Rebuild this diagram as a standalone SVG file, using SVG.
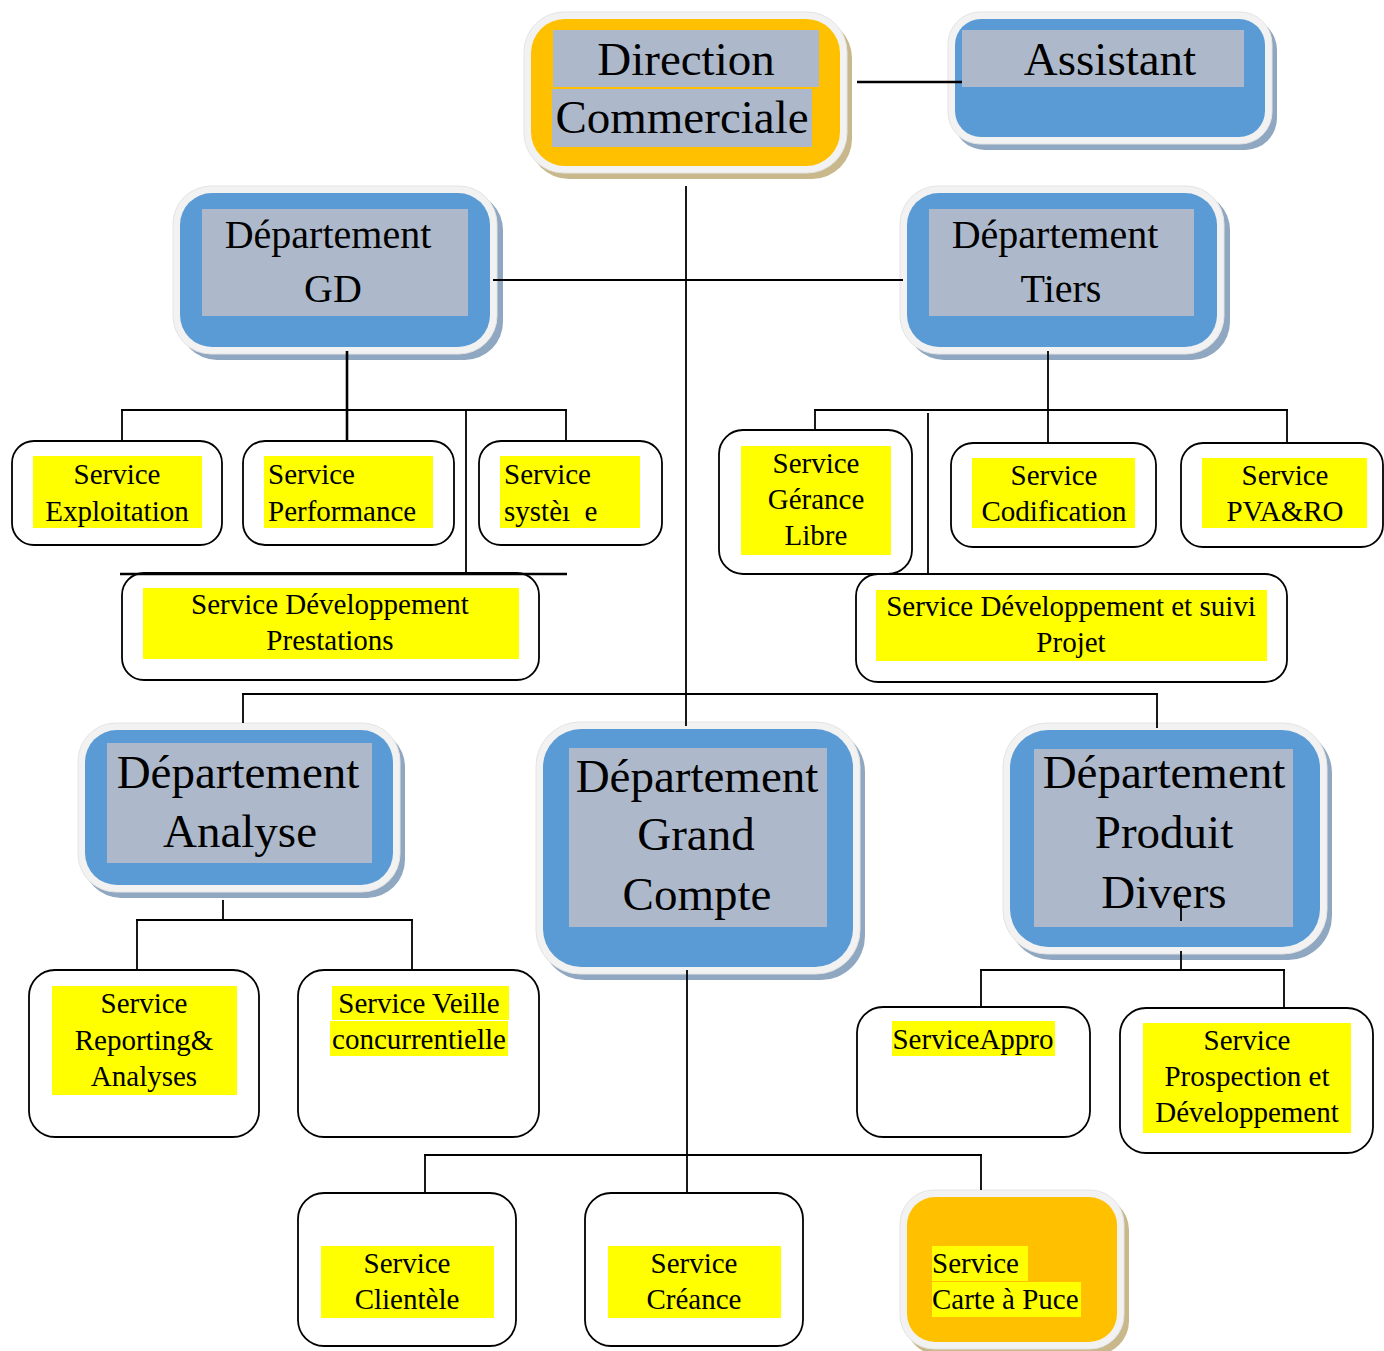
<svg xmlns="http://www.w3.org/2000/svg" width="1384" height="1351" viewBox="0 0 1384 1351">
<style>
text{font-family:"Liberation Serif","Times New Roman",serif;fill:#000}
.big{font-size:47px}
.mid{font-size:40px}
.sv{font-size:29px}
.c{text-anchor:middle}
.outer{fill:#f2f2f2;stroke:#e4e4e4;stroke-width:1}
.shb{fill:#8fa7c0}
.sho{fill:#c8b88c}
.blue{fill:#5b9bd5}
.orange{fill:#ffc000}
.gray{fill:#adb9ca}
.box{fill:#fff;stroke:#000;stroke-width:1.8}
.hl{fill:#ffff00}
.ln{stroke:#000;stroke-width:1.8;fill:none}
.thick{stroke-width:2.6}
</style>
<rect width="1384" height="1351" fill="#fff"/>

<g id="direction">
<rect class="sho" x="529" y="18" width="323" height="161" rx="40"/>
<rect class="outer" x="524" y="12" width="323" height="161" rx="40"/>
<rect class="orange" x="531" y="19" width="309" height="147" rx="34"/>
<rect class="gray" x="553" y="30" width="266" height="57"/>
<rect class="gray" x="552" y="89" width="260" height="58"/>
<text class="big c" x="686" y="75">Direction</text>
<text class="big c" x="682" y="133">Commerciale</text>
</g>

<g id="assistant">
<rect class="shb" x="953" y="18" width="324" height="132" rx="32"/>
<rect class="outer" x="948" y="12" width="324" height="132" rx="32"/>
<rect class="blue" x="955" y="19" width="310" height="118" rx="26"/>
<rect class="gray" x="962" y="30" width="282" height="57"/>
<text class="big c" x="1110" y="75">Assistant</text>
</g>

<g id="dept-gd">
<rect class="shb" x="179" y="192" width="324" height="168" rx="38"/>
<rect class="outer" x="173" y="186" width="324" height="168" rx="38"/>
<rect class="blue" x="180" y="193" width="310" height="154" rx="32"/>
<rect class="gray" x="202" y="209" width="266" height="107"/>
<text class="mid c" x="328" y="248">Département</text>
<text class="mid c" x="333" y="302">GD</text>
</g>

<g id="dept-tiers">
<rect class="shb" x="906" y="192" width="324" height="168" rx="38"/>
<rect class="outer" x="900" y="186" width="324" height="168" rx="38"/>
<rect class="blue" x="907" y="193" width="310" height="154" rx="32"/>
<rect class="gray" x="929" y="209" width="265" height="107"/>
<text class="mid c" x="1055" y="248">Département</text>
<text class="mid c" x="1061" y="302">Tiers</text>
</g>

<g id="svc-exploitation">
<rect class="box" x="12" y="441" width="210" height="104" rx="22"/>
<rect class="hl" x="33" y="456" width="169" height="72"/>
<text class="sv c" x="117" y="484">Service</text>
<text class="sv c" x="117" y="521">Exploitation</text>
</g>

<g id="svc-performance">
<rect class="box" x="243" y="441" width="211" height="104" rx="22"/>
<rect class="hl" x="264" y="456" width="169" height="72"/>
<text class="sv" x="268" y="484">Service</text>
<text class="sv" x="268" y="521">Performance</text>
</g>

<g id="svc-systeme">
<rect class="box" x="479" y="441" width="183" height="104" rx="22"/>
<rect class="hl" x="500" y="456" width="140" height="72"/>
<text class="sv" x="504" y="484">Service</text>
<text class="sv" x="504" y="521" xml:space="preserve">systèı  e</text>
</g>

<g id="svc-dev-prestations">
<rect class="box" x="122" y="573" width="417" height="107" rx="22"/>
<rect class="hl" x="143" y="588" width="376" height="71"/>
<text class="sv c" x="330" y="614">Service Développement</text>
<text class="sv c" x="330" y="650">Prestations</text>
</g>

<g id="svc-gerance">
<rect class="box" x="719" y="430" width="193" height="144" rx="24"/>
<rect class="hl" x="741" y="446" width="150" height="109"/>
<text class="sv c" x="816" y="473">Service</text>
<text class="sv c" x="816" y="509">Gérance</text>
<text class="sv c" x="816" y="545">Libre</text>
</g>

<g id="svc-codification">
<rect class="box" x="951" y="443" width="205" height="104" rx="22"/>
<rect class="hl" x="972" y="458" width="163" height="70"/>
<text class="sv c" x="1054" y="485">Service</text>
<text class="sv c" x="1054" y="521">Codification</text>
</g>

<g id="svc-pva">
<rect class="box" x="1181" y="443" width="202" height="104" rx="22"/>
<rect class="hl" x="1202" y="458" width="165" height="70"/>
<text class="sv c" x="1285" y="485">Service</text>
<text class="sv c" x="1285" y="521">PVA&amp;RO</text>
</g>

<g id="svc-dev-projet">
<rect class="box" x="856" y="574" width="431" height="108" rx="22"/>
<rect class="hl" x="876" y="590" width="391" height="71"/>
<text class="sv c" x="1071" y="616">Service Développement et suivi</text>
<text class="sv c" x="1071" y="652">Projet</text>
</g>

<g id="dept-analyse">
<rect class="shb" x="83" y="729" width="322" height="169" rx="38"/>
<rect class="outer" x="78" y="723" width="322" height="169" rx="38"/>
<rect class="blue" x="85" y="730" width="308" height="155" rx="32"/>
<rect class="gray" x="107" y="743" width="265" height="120"/>
<text class="big c" x="238" y="788">Département</text>
<text class="big c" x="240" y="847">Analyse</text>
</g>

<g id="dept-grand-compte">
<rect class="shb" x="541" y="728" width="324" height="252" rx="44"/>
<rect class="outer" x="536" y="722" width="324" height="252" rx="44"/>
<rect class="blue" x="543" y="729" width="310" height="238" rx="38"/>
<rect class="gray" x="569" y="748" width="258" height="179"/>
<text class="big c" x="697" y="792">Département</text>
<text class="big c" x="696" y="850">Grand</text>
<text class="big c" x="697" y="910">Compte</text>
</g>

<g id="dept-produit-divers">
<rect class="shb" x="1008" y="729" width="324" height="231" rx="44"/>
<rect class="outer" x="1003" y="723" width="324" height="231" rx="44"/>
<rect class="blue" x="1010" y="730" width="310" height="217" rx="38"/>
<rect class="gray" x="1034" y="749" width="259" height="178"/>
<text class="big c" x="1164" y="788">Département</text>
<text class="big c" x="1164" y="848">Produit</text>
<text class="big c" x="1164" y="908">Divers</text>
</g>

<g id="svc-reporting">
<rect class="box" x="29" y="970" width="230" height="167" rx="26"/>
<rect class="hl" x="52" y="986" width="185" height="109"/>
<text class="sv c" x="144" y="1013">Service</text>
<text class="sv c" x="144" y="1050">Reporting&amp;</text>
<text class="sv c" x="144" y="1086">Analyses</text>
</g>

<g id="svc-veille">
<rect class="box" x="298" y="970" width="241" height="167" rx="26"/>
<rect class="hl" x="332" y="986" width="177" height="34"/>
<rect class="hl" x="330" y="1021" width="178" height="35"/>
<text class="sv c" x="419" y="1013">Service Veille</text>
<text class="sv c" x="419" y="1049">concurrentielle</text>
</g>

<g id="svc-appro">
<rect class="box" x="857" y="1007" width="233" height="130" rx="26"/>
<rect class="hl" x="892" y="1021" width="163" height="35"/>
<text class="sv c" x="973" y="1049">ServiceAppro</text>
</g>

<g id="svc-prospection">
<rect class="box" x="1120" y="1008" width="253" height="145" rx="26"/>
<rect class="hl" x="1143" y="1023" width="208" height="110"/>
<text class="sv c" x="1247" y="1050">Service</text>
<text class="sv c" x="1247" y="1086">Prospection et</text>
<text class="sv c" x="1247" y="1122">Développement</text>
</g>

<g id="svc-clientele">
<rect class="box" x="298" y="1193" width="218" height="153" rx="26"/>
<rect class="hl" x="321" y="1246" width="173" height="72"/>
<text class="sv c" x="407" y="1273">Service</text>
<text class="sv c" x="407" y="1309">Clientèle</text>
</g>

<g id="svc-creance">
<rect class="box" x="585" y="1193" width="218" height="153" rx="26"/>
<rect class="hl" x="608" y="1246" width="173" height="72"/>
<text class="sv c" x="694" y="1273">Service</text>
<text class="sv c" x="694" y="1309">Créance</text>
</g>

<g id="svc-carte-puce">
<rect class="sho" x="905" y="1196" width="224" height="159" rx="34"/>
<rect class="outer" x="900" y="1190" width="224" height="159" rx="34"/>
<rect class="orange" x="907" y="1197" width="210" height="145" rx="28"/>
<rect class="hl" x="932" y="1246" width="96" height="35"/>
<rect class="hl" x="932" y="1282" width="149" height="35"/>
<text class="sv" x="932" y="1273">Service</text>
<text class="sv" x="932" y="1309">Carte à Puce</text>
</g>

<g id="connectors">
<line class="ln thick" x1="857" y1="82" x2="962" y2="82"/>
<line class="ln" x1="686" y1="186" x2="686" y2="726"/>
<line class="ln" x1="493" y1="280" x2="903" y2="280"/>
<line class="ln thick" x1="347" y1="351" x2="347" y2="442"/>
<line class="ln" x1="121" y1="410" x2="567" y2="410"/>
<line class="ln" x1="122" y1="410" x2="122" y2="441"/>
<line class="ln" x1="566" y1="410" x2="566" y2="441"/>
<line class="ln" x1="466" y1="410" x2="466" y2="574"/>
<line class="ln thick" x1="120" y1="574" x2="567" y2="574"/>
<line class="ln" x1="1048" y1="351" x2="1048" y2="443"/>
<line class="ln" x1="814" y1="410" x2="1288" y2="410"/>
<line class="ln" x1="815" y1="410" x2="815" y2="430"/>
<line class="ln" x1="1287" y1="410" x2="1287" y2="443"/>
<line class="ln" x1="928" y1="413" x2="928" y2="574"/>
<line class="ln" x1="242" y1="694" x2="1158" y2="694"/>
<line class="ln" x1="243" y1="694" x2="243" y2="723"/>
<line class="ln" x1="1157" y1="694" x2="1157" y2="728"/>
<line class="ln" x1="223" y1="900" x2="223" y2="920"/>
<line class="ln" x1="136" y1="920" x2="413" y2="920"/>
<line class="ln" x1="137" y1="920" x2="137" y2="970"/>
<line class="ln" x1="412" y1="920" x2="412" y2="970"/>
<line class="ln" x1="687" y1="970" x2="687" y2="1193"/>
<line class="ln" x1="424" y1="1155" x2="982" y2="1155"/>
<line class="ln" x1="425" y1="1155" x2="425" y2="1193"/>
<line class="ln" x1="981" y1="1155" x2="981" y2="1190"/>
<line class="ln" x1="1181" y1="900" x2="1181" y2="921"/>
<line class="ln" x1="1181" y1="951" x2="1181" y2="970"/>
<line class="ln" x1="980" y1="970" x2="1285" y2="970"/>
<line class="ln" x1="981" y1="970" x2="981" y2="1008"/>
<line class="ln" x1="1284" y1="970" x2="1284" y2="1008"/>
</g>
</svg>
